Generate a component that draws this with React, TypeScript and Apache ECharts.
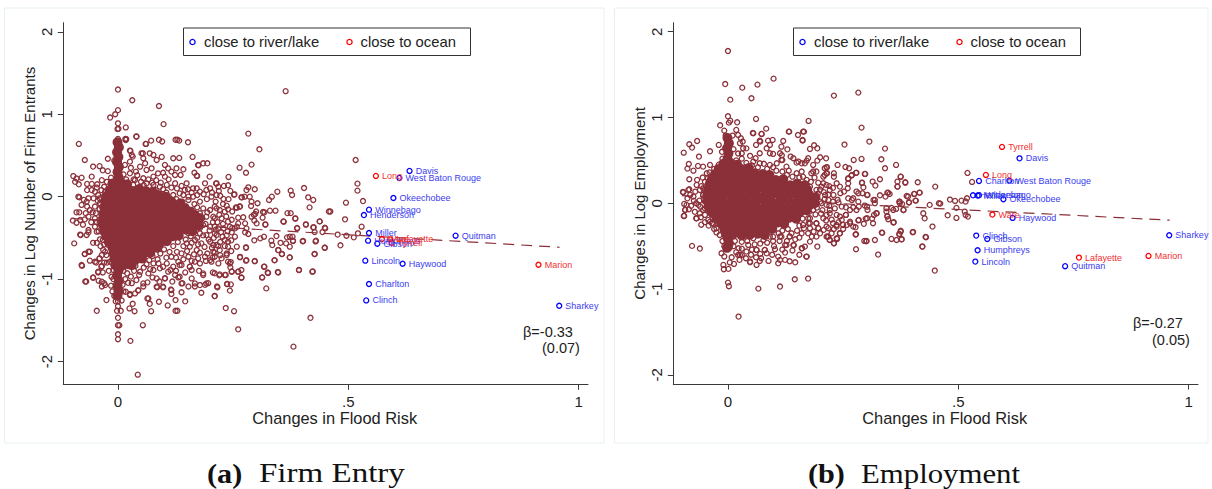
import React, { useEffect, useRef } from "react";
import * as echarts from "echarts";

type P = number[];
type L = [string, number, number];

const xTicks = [0, 0.5, 1];
const yTicks = [-2, -1, 0, 1, 2];

const leftRiver: L[] = [["Davis",.633,.312],["West Baton Rouge",.611,.227],["Okeechobee",.598,-.016],["Winnebago",.545,-.158],["Henderson",.534,-.223],["Miller",.545,-.441],["Humphreys",.543,-.534],["Gibson",.563,-.571],["Quitman",.733,-.474],["Lincoln",.537,-.777],["Haywood",.618,-.814],["Charlton",.545,-1.06],["Clinch",.539,-1.259],["Sharkey",.958,-1.324]];
const leftOcean: L[] = [["Long",.56,.251],["Ware",.573,-.514],["Lafayette",.591,-.518],["Tyrrell",.594,-.559],["Marion",.913,-.826]];
const rightRiver: L[] = [["Davis",.633,.524],["Charlton",.545,.26],["West Baton Rouge",.611,.264],["Henderson",.532,.093],["Miller",.542,.09],["Winnebago",.545,.093],["Okeechobee",.598,.047],["Haywood",.618,-.171],["Clinch",.539,-.377],["Gibson",.563,-.416],["Humphreys",.542,-.548],["Lincoln",.537,-.68],["Quitman",.732,-.734],["Sharkey",.958,-.373]];
const rightOcean: L[] = [["Tyrrell",.595,.657],["Long",.56,.33],["Ware",.574,-.132],["Lafayette",.762,-.633],["Marion",.913,-.614]];

const leftFit: P[] = [[-.1,-.265],[.959,-.614]];
const rightFit: P[] = [[-.1,.089],[.959,-.197]];

const leftCore: P[] = [
[-.001,.66],[.002,.6],[-.002,.54],[.001,.48],[-.002,.42],[.002,.36],[-.001,.3],[.001,.24],
[-.012,.16],[.004,.17],[.02,.15],
[-.018,.08],[-.002,.09],[.014,.08],[.03,.07],[.045,.09],[.06,.07],[.075,.06],
[-.024,.01],[-.008,.02],[.008,.01],[.024,.0],[.04,.02],[.056,.01],[.072,-.01],[.088,.02],[.104,.0],
[-.028,-.06],[-.012,-.05],[.004,-.07],[.02,-.06],[.036,-.05],[.052,-.07],[.068,-.06],[.084,-.05],[.1,-.07],[.116,-.06],
[-.03,-.13],[-.014,-.14],[.002,-.12],[.018,-.13],[.034,-.14],[.05,-.12],[.066,-.13],[.082,-.14],[.098,-.12],[.114,-.13],[.127,-.14],
[-.031,-.2],[-.015,-.19],[.001,-.21],[.017,-.2],[.033,-.19],[.049,-.21],[.065,-.2],[.081,-.19],[.097,-.21],[.113,-.2],[.129,-.19],[.138,-.21],
[-.032,-.27],[-.016,-.28],[.0,-.26],[.016,-.27],[.032,-.28],[.048,-.26],[.064,-.27],[.08,-.28],[.096,-.26],[.112,-.27],[.128,-.28],[.144,-.26],[.152,-.27],
[-.033,-.34],[-.017,-.33],[-.001,-.35],[.015,-.34],[.031,-.33],[.047,-.35],[.063,-.34],[.079,-.33],[.095,-.35],[.111,-.34],[.127,-.33],[.143,-.35],[.158,-.34],
[-.03,-.41],[-.014,-.42],[.002,-.4],[.018,-.41],[.034,-.42],[.05,-.4],[.066,-.41],[.082,-.42],[.098,-.4],[.114,-.41],[.13,-.42],[.148,-.4],
[-.025,-.48],[-.009,-.47],[.007,-.49],[.023,-.48],[.039,-.47],[.055,-.49],[.071,-.48],[.087,-.47],[.103,-.49],[.119,-.48],[.132,-.47],
[-.02,-.55],[-.004,-.56],[.012,-.54],[.028,-.55],[.044,-.56],[.06,-.54],[.076,-.55],[.092,-.56],[.106,-.54],
[-.012,-.62],[.004,-.61],[.02,-.63],[.036,-.62],[.052,-.61],[.068,-.63],[.085,-.62],
[-.01,-.69],[.006,-.7],[.022,-.68],[.038,-.69],[.054,-.7],[.07,-.68],
[-.008,-.76],[.008,-.75],[.024,-.77],[.04,-.76],[.052,-.75],
[-.006,-.83],[.008,-.84],[.022,-.82],[.03,-.83],
[.001,-.9],[-.002,-.96],[.002,-1.02],[-.001,-1.08],[.001,-1.14],[-.001,-1.2],
[.17,-.3],[.178,-.26],[.174,-.35],[.166,-.22],[.162,-.42],[.155,-.18],[.145,-.14],[.135,-.08],
];

const leftRings: P[] = [
[0,1.3],[.031,1.17],[.089,1.1],[.099,.88],[0,1.05],[-.006,1],[-.017,.96],[0,.89],[-.001,.82],[.001,.825],[.017,.84],[.04,.73],[.016,.7],[.018,.7],[0,.7],[.06,.64],[.072,.68],[.089,.69],[.096,.67],[.125,.69],[.129,.69],[.133,.68],[.152,.66],[-.085,.64],[-.072,.445],[-.054,.365],[-.04,.37],[-.033,.32],[-.022,.46],[-.008,.44],[.027,.555],[.032,.486],[.054,.526],[.069,.526],[.077,.506],[.095,.482],[.12,.466],[.133,.47],[.162,.482],[.175,.38],[.185,.405],[.194,.405],[.166,.29],[.171,.255],[.199,.243],[.24,.239],[.264,.352],[.278,.29],[.29,.389],[.283,.765],[.307,.575],[.364,1.28],[.404,.105],[.375,.073],[.378,.02],[.413,-.008],[.424,-.04],[.416,-.13],[.346,.06],[.334,0],[.328,-.04],[.283,.113],[.297,.09],[.279,.08],[.252,.024],[.268,-.008],[.275,0],[.286,0],[.29,-.06],[.303,-.08],[.289,-.113],[.256,-.13],[.264,-.12],[.33,-.17],[.342,-.17],[.315,-.186],[.3,-.18],[.295,-.22],[.359,-.3],[.368,-.2],[.375,-.2],[.385,-.263],[.408,-.336],[.438,-.3],[.449,-.376],[.458,-.18],[.424,-.372],[.389,-.38],[.32,-.336],[.314,-.255],
[-.097,.25],[-.09,.22],[-.079,.23],[-.057,.243],[-.093,.18],[-.085,.15],[-.067,.154],[-.057,.154],[-.045,.15],[-.067,.08],[-.057,.08],[-.084,-.008],[-.074,-.04],[-.064,-.02],[-.079,-.1],[-.067,-.12],[-.09,-.19],[-.084,-.19],[-.098,-.29],[-.09,-.316],[-.082,-.283],
[-.095,-.567],[-.082,-.46],[-.064,-.433],[-.046,-.56],[-.033,-.526],[-.072,-.696],[-.064,-.668],[-.079,-.83],[-.078,-.84],[-.061,-.777],[-.047,-.8],[-.04,-.75],[-.036,-.85],[-.043,-.92],[-.033,-.92],[-.071,-1.03],[-.054,-.98],[-.042,-1.02],[-.03,-1.05],[-.035,-1.09],[-.025,-1.255],[-.046,-1.385],[-.008,-1.206],[0,-1.27],[0,-1.33],[-.002,-1.385],[.006,-1.385],[0,-1.47],[0,-1.56],[.003,-1.56],[0,-1.67],[0,-1.73],[.027,-1.75],[.043,-2.16],[.054,-1.56],[.025,-1.356],[.032,-1.3],[.036,-1.39],[.064,-1.235],[.069,-1.3],[.072,-1.39],[.089,-1.275],[.108,-1.32],[.125,-1.255],[.125,-1.385],[.129,-1.385],[.146,-1.27],[.115,-1.125],[.116,-1.18],[.138,-1.16],[.085,-1.1],[.098,-1.1],[.055,-1.09],[.044,-1.14],[.037,-1.174],[.026,-1.194],[.017,-1.154],[.064,-1.04],[.077,-.89],[.102,-.99],[.109,-.91],[.131,-.98],[.14,-1.05],[.153,-1.09],[.167,-1.09],[.181,-1.166],[.189,-1.07],[.196,-1.05],[.215,-1.09],[.21,-1.206],[.237,-1.06],[.243,-1.14],[.234,-1.352],[.252,-1.39],[.261,-1.61],[.418,-1.47],[.381,-1.82],[.185,-.95],[.206,-.92],[.22,-.955],[.234,-.95],[.268,-.98],[.261,-.91],[.247,-.91],[.313,-.98],[.325,-.92],[.347,-.915],[.393,-.89],[.422,-.91],[.322,-1.113],[.317,-.85],[.34,-.77],[.373,-.737],[.356,-.696],[.348,-.648],[.427,-.696],[.449,-.62],[.43,-.534],[.401,-.542],[.38,-.534],[.297,-.785],[.279,-.77],[.265,-.737],[.278,-.62],[.243,-.81],[.236,-.69],[.218,-.81],[.2,-.77],[.178,-.81],[.156,-.85],[.134,-.83],
[.516,.445],[.52,.158],[.52,.073],[.532,-.053],[.495,-.073],[.461,-.18],[.493,-.275],[.529,-.364],[.521,-.445],[.512,-.494],[.496,-.474],[.477,-.46],[.483,-.59],[.449,-.62],[.427,-.696],[.45,-.385],[.444,-.43],[.438,-.3],[.425,-.372],[.427,-.43],[.429,-.543],[.408,-.34],[.402,-.538],[.389,-.385],[.385,-.267],[.36,-.304],[.32,-.34],[.318,-.19],
[.379,-.486],[.38,-.538],[.373,-.486],[.367,-.494],[.365,-.567],[.373,-.607],[.353,-.56],[.344,-.478],[.333,-.534],[.335,-.587],[.348,-.648],[.356,-.696],[.373,-.737],[.34,-.773],[.317,-.486],[.309,-.506],[.296,-.53],[.278,-.615],[.297,-.78],[.278,-.777],[.265,-.73],[.318,-.85],[.326,-.927],[.348,-.92],[.313,-.98],[.393,-.89],[.423,-.907],
[.268,-.89],[.261,-.91],[.268,-.984],[.245,-.794],[.244,-.858],[.247,-.907],[.232,-.95],[.221,-.943],[.21,-.93],[.237,-1.06],[.245,-1.065],[.216,-1.1],[.21,-1.206],
[.23,.13],[.239,.138],[.213,.16],[.219,.07],[.253,.028],[.269,-.008],[.229,-.028],[.239,-.154],[.265,-.12],[.258,-.134],[.29,-.243],[.296,-.29],[.301,-.324],[.298,-.21],[.272,-.25],[.261,-.255],[.261,-.324],[.276,-.324],[.279,-.385],[.276,-.433],[.283,-.453],[.254,-.385],[.243,-.364],[.247,-.433],[.254,-.486],[.239,-.547],[.227,-.486],[.258,-.607],[.239,-.607],[.258,-.364],
[-.086,0],[-.072,-.275],[-.064,-.243],[-.068,-.06],[-.061,-.162],[-.05,-.12],[-.053,-.02],[-.043,.02],[-.036,.08],[-.032,0],[-.039,-.08],[-.036,-.223],[-.028,-.162],[-.05,-.263],[-.064,-.405],[-.05,-.364],[-.046,-.425],[-.068,-.465],[-.081,-.466],[-.054,-.56],[-.039,-.518],[-.032,-.445],[-.028,-.364],[-.021,-.587],[-.032,-.648],[-.025,-.709],[-.035,-.709],[-.04,-.75],[-.05,-.79],[-.035,-.842],[-.043,-.911],[-.054,-.984],[-.035,-1.032],[-.028,-1.073],[-.014,-.972],[-.01,-.89],[-.017,-.79],[-.061,-.668],[-.072,-.696],[-.069,-1.03],
[.017,.688],[.04,.729],[.061,.64],[.026,.559],[.03,.506],[.051,.526],[.174,.385],[.172,.251],[.015,.385],[.026,.425],[.039,.304],[.048,.364],[.055,.466],[.059,.405],[.062,.324],[.073,.344],[.084,.445],[.087,.283],[.102,.385],[.109,.344],[.116,.304],[.127,.344],[.142,.332],[.124,.263],[.136,.263],[.102,.243],[.077,.243],[.055,.223],[.037,.202],[.026,.283],[.106,.142],[.124,.162],[.149,.162],[.171,.101],[.189,.162],[.2,.101],[.214,.162],[.218,.121],[.153,0],[.163,0],[.178,-.06],[.192,.081],[.203,0],[.214,.02],[.134,.04],[.12,.02],[.178,.06],[.163,.101],[.145,.081],[.091,.121],[.077,.142],[.062,.162],[.048,.121],[.033,.142],
[.185,-.142],[.2,-.162],[.214,-.142],[.178,-.202],[.192,-.243],[.21,-.263],[.171,-.283],[.185,-.344],[.2,-.364],[.218,-.385],[.178,-.445],[.192,-.466],[.21,-.445],[.167,-.526],[.181,-.567],[.2,-.547],[.214,-.587],[.156,-.607],[.171,-.648],[.189,-.729],[.207,-.668],[.153,-.729],[.167,-.789],[.138,-.83],[.156,-.85],[.185,-.931],[.167,-1.053],[.192,-1.053],[.178,-1.073],[.16,-.992],[.134,-.972],[.138,-1.053],[.116,-1.134],[.098,-1.093],[.084,-1.093],[.102,-.992],[.084,-.992],[.066,-.931],[.055,-1.053],[.044,-1.134],[.066,-1.235],[.026,-1.182],[.022,-1.045],[.04,-1.012],[.048,-.911],[.077,-.81],[.091,-.87],[.106,-.81],[.12,-.85],[.131,-.789],[.116,-.729],[.138,-.688],[.149,-.567],[.153,-.445],[.163,-.364],
[.21,-.12],[.221,-.162],[.232,-.182],[.207,-.243],[.225,-.263],[.239,-.304],[.21,-.364],[.229,-.385],[.214,-.466],[.232,-.526],[.207,-.587],[.221,-.648],[.21,-.729],[.225,-.749],[.203,-.789],[.236,-.709],[.239,-.789],
];

const leftRingsDense: P[] = [
[-.022,.31],[-.015,.23],[-.024,.18],[-.03,.12],[.012,.27],[.018,.21],[.028,.35],[.042,.26],[.05,.18],[.066,.21],[.074,.17],[.083,.2],[.093,.17],[.098,.29],[.11,.21],[.116,.11],[.098,.09],[.082,.08],[.128,.1],[.138,.13],[.152,.09],[.16,.05],[.142,.02],[.127,-.03],[.14,-.06],[.153,-.04],[.166,-.09],[.172,.02],[.186,.03],[.193,-.03],[.204,.05],[.212,-.06],[.222,.01],[.228,-.09],[.24,-.03],[.244,.07],[.236,-.11],[.248,-.18],[.148,-.12],[.16,-.16],[.172,-.13],[.158,-.22],[.17,-.23],[.183,-.26],[.194,-.19],[.206,-.31],[.22,-.22],[.235,-.24],[.247,-.28],[.216,-.31],[.228,-.33],[.168,-.33],[.178,-.38],[.19,-.33],[.199,-.41],[.212,-.4],[.224,-.43],[.238,-.42],[.248,-.38],[.164,-.42],[.158,-.48],[.172,-.5],[.185,-.47],[.197,-.52],[.208,-.5],[.222,-.55],[.236,-.47],[.246,-.53],[.147,-.52],[.16,-.56],[.174,-.58],[.188,-.61],[.204,-.62],[.218,-.6],[.232,-.6],[.246,-.66],[.13,-.55],[.142,-.6],[.12,-.6],[.15,-.66],[.165,-.7],[.178,-.68],[.194,-.69],[.21,-.68],[.222,-.71],[.1,-.64],[.112,-.67],[.128,-.67],[.092,-.69],[.105,-.74],[.126,-.74],[.142,-.76],[.16,-.78],[.174,-.75],[.191,-.78],[.205,-.74],[.075,-.72],[.086,-.76],[.068,-.77],[.062,-.82],[.056,-.86],[.07,-.88],[.088,-.81],[.098,-.85],[.114,-.89],[.126,-.9],[.146,-.92],[.16,-.89],[.176,-.9],[.038,-.84],[.046,-.95],[.035,-.9],[.028,-.97],[.02,-.93],[.012,-.9],[.016,-1.0],[.03,-1.05],[.01,-1.07],[.012,-1.15],[-.01,-1.0],[-.02,-.9],[-.015,-1.08],[-.012,-1.15],[-.005,-1.27],[.008,-1.26],[.075,-.98],[.09,-1.03],[.118,-1.03],[.124,-.95],[-.04,-.32],[-.048,-.2],[-.044,-.05],[-.04,-.15],[-.046,-.31],[-.055,-.19],[-.058,-.31],[-.07,-.2],[-.076,-.34],[-.04,-.28],[-.042,-.42],[-.038,-.6],[-.03,-.58],[-.028,-.67],[-.024,-.8],[-.03,-.8],[-.02,.02],[-.035,.2],[-.05,.06],[-.028,.06],[-.046,.11],[-.04,-.02],[.008,.2],[.002,.13],[.034,.21],[.056,.14],[.105,.05],
];

const rightCore: P[] = [
[-.001,.76],[.002,.7],[-.002,.64],[.001,.58],[-.001,.52],
[-.01,.46],[.005,.47],[.02,.45],
[-.02,.4],[-.005,.41],[.012,.39],[.028,.4],[.045,.41],
[-.028,.34],[-.012,.33],[.005,.35],[.022,.34],[.04,.33],[.058,.35],[.075,.34],[.09,.33],
[-.035,.28],[-.018,.29],[0,.27],[.017,.28],[.035,.29],[.052,.27],[.07,.28],[.087,.29],[.104,.27],[.12,.28],
[-.04,.22],[-.023,.21],[-.006,.23],[.012,.22],[.03,.21],[.048,.23],[.065,.22],[.083,.21],[.1,.23],[.118,.22],[.135,.21],[.15,.23],
[-.043,.155],[-.026,.165],[-.009,.145],[.009,.155],[.026,.165],[.044,.145],[.061,.155],[.079,.165],[.096,.145],[.114,.155],[.131,.165],[.148,.145],[.16,.155],
[-.045,.09],[-.028,.08],[-.011,.1],[.007,.09],[.024,.08],[.042,.1],[.059,.09],[.077,.08],[.094,.1],[.112,.09],[.129,.08],[.147,.1],[.163,.09],
[-.044,.025],[-.027,.035],[-.01,.015],[.008,.025],[.025,.035],[.043,.015],[.06,.025],[.078,.035],[.095,.015],[.113,.025],[.13,.035],[.148,.015],[.165,.025],
[-.042,-.04],[-.025,-.05],[-.008,-.03],[.01,-.04],[.027,-.05],[.045,-.03],[.062,-.04],[.08,-.05],[.097,-.03],[.115,-.04],[.132,-.05],[.15,-.03],[.165,-.04],
[-.035,-.105],[-.018,-.095],[-.001,-.115],[.017,-.105],[.034,-.095],[.052,-.115],[.069,-.105],[.087,-.095],[.104,-.115],[.122,-.105],[.139,-.095],[.155,-.11],
[-.025,-.17],[-.008,-.18],[.009,-.16],[.027,-.17],[.044,-.18],[.062,-.16],[.079,-.17],[.097,-.18],[.114,-.16],[.132,-.17],[.148,-.18],
[-.015,-.235],[.002,-.225],[.019,-.245],[.037,-.235],[.054,-.225],[.072,-.245],[.089,-.235],[.107,-.225],[.122,-.24],
[-.008,-.3],[.009,-.31],[.026,-.29],[.044,-.3],[.061,-.31],[.079,-.29],[.096,-.3],
[-.004,-.365],[.012,-.355],[.03,-.375],[.048,-.365],[.065,-.355],[.08,-.37],
[.0,-.42],[.002,-.47],[-.002,-.52],
[.176,.1],[.18,.04],[.178,-.02],[.19,.07],[.188,.0],[.172,.16],[.17,-.08],[.166,.21],
];

const rightRings: P[] = [
[0,1.775],[-.006,1.39],[.031,1.348],[.064,1.383],[.099,1.453],[.005,1.208],[.051,1.224],[.23,1.255],[.283,1.29],[.29,.882],[.307,.719],[.341,.637],[.253,.684],[0,1.014],[.005,.963],[.002,.94],[.02,.944],[-.017,.909],[-.008,.847],[-.005,.789],[.018,.855],[.01,.789],[.022,.796],[.028,.758],[.061,.983],[.054,.82],[.073,.808],[.083,.87],[.132,.835],[.152,.796],[.165,.835],[.175,.96],[.162,.73],[.12,.726],[.087,.73],[.097,.738],[.032,.719],[.033,.641],[.061,.68],[.069,.73],[.116,.66],[.129,.629],[.091,.68],[.084,.641],[.178,.633],[.187,.676],[.194,.641],[.098,.575],[.117,.56],[.136,.544],[.2,.536],[.213,.524],[.194,.497],[.171,.497],[.149,.474],[.16,.466],[.116,.505],[.185,.447],[.238,.447],[.215,.42],[.255,.423],[.263,.408],[.273,.505],[.29,.517],[.333,.513],[.365,.447],[.341,.408],[.278,.354],[.298,.342],[.375,.31],[.368,.253],[.385,.24],[.33,.28],[.314,.253],[.32,.206],[.291,.237],[.268,.322],[.261,.284],[.294,.186],[.412,.245],[.45,.194],[.368,.194],[.279,.136],[.346,.124],[.351,.109],[.416,.124],[.404,.109],[.391,.078],[.302,.097],[.319,.039],[.33,.093],[.342,.078],[.372,.019],[.378,-.008],[.393,.012],[.408,.031],[.438,-.019],[.458,0],[.21,.408],[.23,.35],[.215,.35],[.185,.37],[.181,.35],[.16,.37],
[-.096,.59],[-.067,.726],[-.084,.688],[-.078,.649],[-.039,.606],[-.063,.544],[-.085,.458],[-.088,.404],[-.075,.38],[-.065,.435],[-.054,.427],[-.039,.447],[-.046,.35],[-.084,.28],[-.067,.272],[-.098,.132],[-.084,.163],[-.095,-.008],[-.088,.058],[-.075,.078],[-.061,.155],[-.093,-.078],[-.085,-.07],[-.096,-.148],[-.069,-.175],[-.061,-.117],[-.043,-.194],[-.035,-.233],[-.023,-.24],[-.05,.02],[-.054,.097],[-.069,0],[-.032,.272],[-.025,.37],
[-.078,-.497],[-.061,-.528],[-.014,-.583],[-.01,-.719],[-.009,-.769],[.001,-.765],[.013,-.707],[.025,-.66],[0,-.925],[.002,-.967],[.066,-.995],[.113,-.971],[.145,-.886],[.174,-.878],[.023,-1.321],[.088,-.672],[.113,-.66],[.134,-.676],[.146,-.688],[.17,-.622],[.048,-.688],[.069,-.672],[.061,-.63],[.039,-.641],[.03,-.602],[.124,-.575],[.109,-.622],[.004,-.517],[.023,-.525],[.044,-.486],[.062,-.544],[.08,-.544],[.102,-.536],[.127,-.486],[.143,-.49],[.161,-.525],[.194,-.505],[.178,-.447],[.23,-.466],[.221,-.428],[.237,-.416],[.216,-.388],[.243,-.35],[.196,-.291],[.16,-.35],[.182,-.388],[.134,-.388],[.138,-.35],[.113,-.388],[.091,-.388],[.077,-.428],[.055,-.408],[.278,-.536],[.326,-.598],[.449,-.785],[.3,-.443],[.319,-.428],[.355,-.416],[.366,-.428],[.377,-.42],[.422,-.505],[.43,-.396],[.401,-.338],[.375,-.33],[.372,-.361],[.334,-.342],[.335,-.345],[.277,-.365],[.277,-.28],[.359,-.225],[.444,-.272],[.427,-.175],[.424,-.117],[.381,-.078],[.346,-.155],[.295,-.24],[.315,-.233],[.302,-.175],[.322,-.117],[.284,-.194],[.265,-.233],[.25,-.253],[.256,-.136],[.236,-.253],[.218,-.291],[.192,-.233],[.175,-.233],[.178,-.175],[.214,-.136],[.221,-.078],[.243,-.155],[.265,-.078],[.284,-.04],[.302,-.04],[.317,-.136],[.344,-.058],[.359,-.078],[.373,0],
[.52,.354],[.53,.249],[.507,.031],[.493,.027],[.482,.043],[.519,.058],[.516,.02],[.496,-.054],[.461,-.004],[.477,-.14],[.496,-.171],[.514,-.097],[.521,-.155],[.516,-.136],[.429,-.392],[.422,-.505],[.402,-.334],[.375,-.319],[.372,-.357],[.377,-.42],[.36,-.221],[.348,-.186],[.344,-.097],[.346,-.148],[.301,-.439],[.296,-.439],[.278,-.361],[.283,-.2],[.299,-.179],[.313,-.179],[.323,-.117],[.303,-.078],[.297,-.027],[.283,.019],[.272,.058],[.303,.097],[.292,.117],[.283,.117],[.348,.124],[.316,.039],[.319,0],[.355,-.054],[.365,-.066],[.373,.019],[.381,-.078],[.388,.085],[.393,.008],[.407,.031],[.405,.109],[.416,.124],[.375,.31],[.368,.194],[.385,.245],[.291,.241],[.297,.342],[.279,.357],
[.214,.42],[.214,.35],[.207,.31],[.23,.31],[.261,.291],[.261,.233],[.269,.33],[.26,.175],[.236,.233],[.244,.117],[.252,.136],[.243,.194],[.221,.155],[.269,.039],[.261,.058],[.247,-.039],[.256,-.047],[.272,-.047],[.279,-.078],[.221,-.117],[.236,-.136],[.256,-.136],[.247,-.194],[.228,-.233],[.265,-.214],[.258,-.253],[.236,-.272],[.272,-.272],[.225,-.35],[.236,-.408],[.218,-.389],[.221,-.427],[.23,-.466],[.243,-.35],[.207,-.175],[.203,0],[.218,.039],[.229,.097],[.211,.097],[.203,.194],[.214,.214],
[-.054,.175],[-.068,.214],[-.086,.155],[-.097,.128],[-.082,.097],[-.071,.136],[-.054,.097],[-.043,.175],[-.035,.155],[-.046,.019],[-.064,-.019],[-.054,-.078],[-.043,-.078],[-.035,-.136],[-.059,-.163],[-.068,-.175],[-.095,-.148],[-.093,-.078],[-.09,-.019],[-.033,-.233],[-.025,-.291],[-.039,-.214],[-.05,-.136],
[.055,.816],[.073,.808],[.163,.835],[.133,.835],[.162,.738],[.026,.7],[.04,.64],[.03,.583],[.048,.553],[.07,.72],[.069,.583],[.06,.525],[.091,.583],[.113,.583],[.118,.505],[.142,.525],[.153,.486],[.167,.466],[.174,.525],[.055,.486],[.069,.466],[.091,.447],[.106,.466],[.127,.427],[.192,.37],[.21,.33],[.149,.35],
[.171,.272],[.178,.194],[.192,.155],[.207,.233],[.218,.097],[.185,.078],[.174,.058],[.2,.019],[.214,-.019],[.185,-.078],[.174,-.175],[.192,-.233],[.214,-.272],[.196,-.291],[.178,-.233],[.163,-.253],[.174,-.35],[.192,-.389],[.167,-.505],[.16,-.525],[.214,-.389],[.171,-.622],[.142,-.486],[.124,-.486],[.134,-.389],[.116,-.389],[.098,-.389],[.08,-.544],[.062,-.544],[.04,-.563],[.022,-.602],[.084,-.583],[.124,-.66],[.109,-.7],[.062,-.719],[.048,-.68],[.026,-.602],
];

const rightRingsDense: P[] = [
[.002,.56],[.012,.63],[.022,.58],[.018,.5],[.03,.52],[.04,.47],[.052,.44],[.065,.42],[.078,.46],[.085,.4],[.098,.42],[.105,.38],[.118,.37],[.132,.38],[.14,.31],[.128,.33],[.155,.3],[.163,.31],[.168,.23],[.175,.14],[.18,.25],[.188,.3],[.196,.24],[.2,.16],[.208,.13],[.22,.2],[.228,.18],[.238,.04],[.228,.02],[.21,.05],[.195,.11],[.186,.02],[.176,.01],[.18,-.03],[.193,-.05],[.205,-.08],[.22,-.03],[.232,-.06],[.24,.01],[.176,-.1],[.19,-.13],[.202,-.12],[.213,-.2],[.225,-.19],[.24,-.22],[.178,-.29],[.162,-.18],[.165,-.29],[.186,-.33],[.2,-.35],[.208,-.31],[.23,-.3],[.25,-.3],[.155,-.26],[.15,-.32],[.13,-.3],[.118,-.32],[.11,-.35],[.146,-.42],[.155,-.4],[.128,-.44],[.112,-.44],[.098,-.44],[.085,-.46],[.07,-.47],[.058,-.48],[.042,-.44],[.03,-.45],[.015,-.44],[.012,-.5],[.03,-.53],[.052,-.54],[.07,-.59],[.1,-.5],[.118,-.54],[.14,-.55],[.155,-.6],[.096,-.6],[.072,-.64],[.05,-.6],[.018,-.57],[.008,-.63],[-.008,-.62],[.004,-.69],[-.008,-.5],[-.012,-.44],[-.018,-.37],[-.025,-.34],[-.03,-.3],[-.042,-.26],[-.05,-.22],[-.058,-.25],[-.05,-.06],[-.06,-.04],[-.052,.04],[-.058,.2],[-.05,.25],[-.044,.29],[-.04,.36],[-.03,.4],[-.02,.45],[-.012,.52],[-.013,.6],[-.02,.68],[-.05,.16],[-.062,.03],[-.072,-.1],[-.08,-.03],[-.074,.03],[-.055,.3],
];

const xLabel = "Changes in Flood Risk";
const legendRiver = "close to river/lake";
const legendOcean = "close to ocean";
const BORDEAUX = "#8b3039";
const FONT = "Liberation Sans";

const ringStyle = (c: string) => ({ color: "transparent", borderColor: c, borderWidth: 1.3, opacity: 1 });

function labelled(list: L[], c: string, gi: number, txt: string) {
  return {
    type: "scatter", xAxisIndex: gi, yAxisIndex: gi, symbolSize: 5, z: 6,
    itemStyle: ringStyle(c),
    label: { show: true, position: "right", distance: 3, formatter: "{b}", color: txt, fontSize: 9, fontFamily: FONT },
    data: list.map((d) => ({ name: d[0], value: [d[1], d[2]] })),
  };
}

function panelSeries(core: P[], rings: P[], fit: P[], river: L[], ocean: L[], gi: number) {
  return [
    { type: "scatter", xAxisIndex: gi, yAxisIndex: gi, symbolSize: 10, z: 3, itemStyle: { color: BORDEAUX, borderWidth: 0, opacity: 1 }, data: core },
    { type: "scatter", xAxisIndex: gi, yAxisIndex: gi, symbolSize: 5, z: 4, itemStyle: ringStyle(BORDEAUX), data: rings },
    { type: "line", xAxisIndex: gi, yAxisIndex: gi, symbol: "none", z: 5, data: fit, lineStyle: { color: BORDEAUX, width: 1.2, type: [11, 7] } },
    labelled(river, "#0000ff", gi, "#3b3bf0"),
    labelled(ocean, "#ff0000", gi, "#f03030"),
  ];
}

const axisBase = {
  axisLine: { onZero: false, lineStyle: { color: "#3a3a3a", width: 1 } },
  axisTick: { show: true, length: 5.5, lineStyle: { color: "#3a3a3a", width: 1 } },
  splitLine: { show: false },
};

function xAxis(gi: number) {
  return {
    ...axisBase, type: "value", gridIndex: gi, min: -0.1187, max: 1.0205,
    axisTick: { ...axisBase.axisTick, customValues: xTicks },
    axisLabel: { customValues: xTicks, fontFamily: FONT, fontSize: 15, color: "#222", margin: 9.5,
      formatter: (v: number) => (v === 0.5 ? ".5" : String(v)) },
    name: xLabel, nameLocation: "middle", nameGap: 25.5, nameMoveOverlap: false,
    nameTextStyle: { fontFamily: FONT, fontSize: 16.4, color: "#222", padding: [0, 0, 0, 18] },
  };
}
function yAxis(gi: number, min: number, max: number, name: string) {
  return {
    ...axisBase, type: "value", gridIndex: gi, min, max,
    axisTick: { ...axisBase.axisTick, customValues: yTicks },
    axisLabel: { customValues: yTicks, rotate: 90, fontFamily: FONT, fontSize: 15, color: "#222", margin: 9 },
    name, nameLocation: "middle", nameGap: 26, nameRotate: 90, nameMoveOverlap: false,
    nameTextStyle: { fontFamily: FONT, fontSize: 15, color: "#222" },
  };
}

function legendBox(x: number) {
  const z = 20;
  return [
    { type: "rect", z, shape: { x, y: 28, width: 287, height: 27.5 }, style: { fill: "#fff", stroke: "#333", lineWidth: 1 } },
    { type: "circle", z, shape: { cx: x + 9, cy: 42, r: 2.6 }, style: { fill: "none", stroke: "#0000ff", lineWidth: 1.3 } },
    { type: "text", z, x: x + 20.5, y: 42, style: { text: legendRiver, font: `14.8px "${FONT}"`, fill: "#222", verticalAlign: "middle" } },
    { type: "circle", z, shape: { cx: x + 166, cy: 42, r: 2.6 }, style: { fill: "none", stroke: "#ff0000", lineWidth: 1.3 } },
    { type: "text", z, x: x + 177, y: 42, style: { text: legendOcean, font: `14.8px "${FONT}"`, fill: "#222", verticalAlign: "middle" } },
  ];
}
function stat(x1: number, y1: number, t1: string, x2: number, y2: number, t2: string) {
  return [
    { type: "text", z: 20, x: x1, y: y1, style: { text: t1, font: `14.5px "${FONT}"`, fill: "#222", verticalAlign: "middle" } },
    { type: "text", z: 20, x: x2, y: y2, style: { text: t2, font: `14.5px "${FONT}"`, fill: "#222", verticalAlign: "middle" } },
  ];
}
function caption(x: number, tag: string, rx: number, rest: string, sx: number) {
  const serif = "Liberation Serif";
  return [
    { type: "text", z: 20, x, y: 473, scaleX: 1.08, style: { text: tag, font: `bold 28px "${serif}"`, fill: "#111", verticalAlign: "middle" } },
    { type: "text", z: 20, x: rx, y: 473, scaleX: sx, style: { text: rest, font: `28px "${serif}"`, fill: "#111", verticalAlign: "middle" } },
  ];
}
function frame(x: number, w: number) {
  return { type: "rect", z: -1, shape: { x, y: 8, width: w, height: 435 }, style: { fill: "#fff", stroke: "#e7f0f0", lineWidth: 1 } };
}

export default function App() {
  const ref = useRef<HTMLDivElement>(null);
  useEffect(() => {
    const chart = echarts.init(ref.current!, undefined, { renderer: "svg" });
    chart.setOption({
      animation: false,
      backgroundColor: "#fff",
      grid: [
        { left: 63.3, top: 22.7, width: 524.7, height: 361.6 },
        { left: 673.3, top: 22.7, width: 524.7, height: 361.3 },
      ],
      xAxis: [xAxis(0), xAxis(1)],
      yAxis: [
        yAxis(0, -2.277, 2.111, "Changes in Log Number of Firm Entrants"),
        yAxis(1, -2.107, 2.105, "Changes in Log Employment"),
      ],
      series: [
        ...panelSeries(leftCore, [...leftRings, ...leftRingsDense], leftFit, leftRiver, leftOcean, 0),
        ...panelSeries(rightCore, [...rightRings, ...rightRingsDense], rightFit, rightRiver, rightOcean, 1),
      ],
      graphic: [
        frame(4.5, 599.5),
        frame(614.5, 593.5),
        ...legendBox(183.5),
        ...legendBox(793.5),
        ...stat(523, 332, "β=-0.33", 542, 348, "(0.07)"),
        ...stat(1133, 323, "β=-0.27", 1152, 340, "(0.05)"),
        ...caption(207, "(a)", 259, "Firm Entry", 1.18),
        ...caption(808, "(b)", 861, "Employment", 1.1),
      ],
    });
    return () => chart.dispose();
  }, []);
  return <div ref={ref} style={{ position: "absolute", left: 0, top: 0, width: 1212, height: 489 }} />;
}
